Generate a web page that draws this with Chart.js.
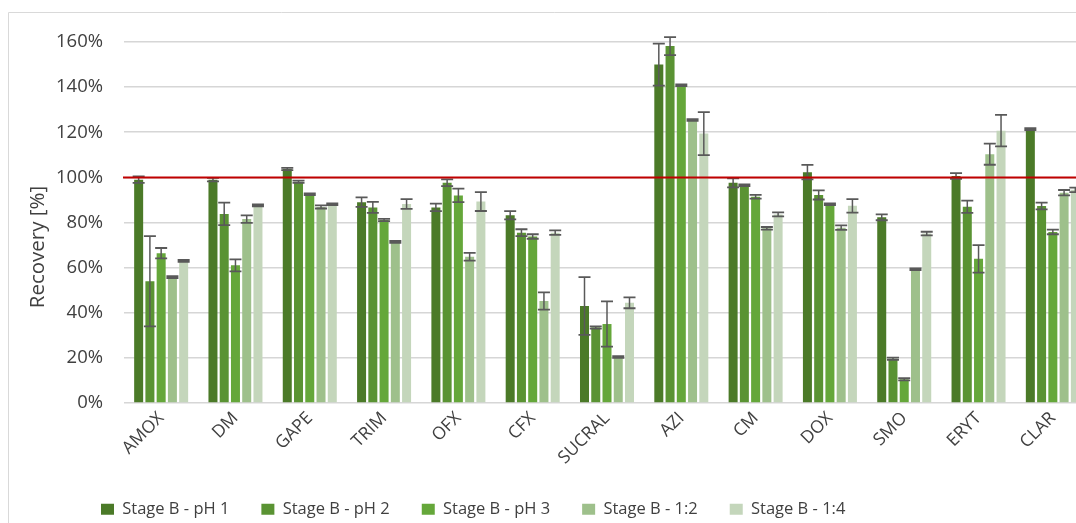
<!DOCTYPE html>
<html>
<head>
<meta charset="utf-8">
<script src="https://cdn.jsdelivr.net/npm/chart.js@4.4.1/dist/chart.umd.min.js"></script>
<style>
  html, body { margin: 0; padding: 0; background: #ffffff; overflow: hidden; }
  #wrap { width: 1100px; height: 523px; }
</style>
</head>
<body>
<div id="wrap"><canvas id="chart" width="1100" height="523"></canvas></div>
<script>
// Compounds on the category axis
const categories = ['AMOX', 'DM', 'GAPE', 'TRIM', 'OFX', 'CFX', 'SUCRAL', 'AZI', 'CM', 'DOX', 'SMO', 'ERYT', 'CLAR'];

// Series labels
const seriesNames = ['Stage B - pH 1', 'Stage B - pH 2', 'Stage B - pH 3', 'Stage B - 1:2', 'Stage B - 1:4'];

// Mean recovery [%] per compound
const recoveryPH1 = [99, 99, 103.7, 89, 86.7, 83.2, 43, 150, 97.6, 102.3, 82.3, 100.6, 121.4];
const recoveryPH2 = [54, 83.8, 98.1, 86.7, 97.6, 75.5, 33.5, 158.2, 96.5, 92.2, 19.6, 87, 87.3];
const recoveryPH3 = [66.4, 61, 92.5, 81.1, 92, 73.8, 35, 140.8, 91.4, 88.1, 10.5, 63.9, 75.8];
const recovery12  = [55.8, 81.5, 86.9, 71.4, 64.8, 45.2, 20.4, 125.4, 77.4, 77.7, 59.3, 110.3, 93.2];
const recovery14  = [63, 87.6, 88.1, 88.2, 89.3, 75.5, 44.4, 119.4, 83.6, 87.4, 75.1, 120.7, 94.5];

// Standard deviations (±) per compound
const errPH1 = [1.4, 0.8, 0.5, 2.1, 1.7, 1.8, 12.8, 9.3, 2.0, 3.2, 1.3, 1.3, 0.4];
const errPH2 = [20, 5, 0.5, 2.4, 1.5, 1.5, 0.5, 4.0, 0.4, 2.0, 0.5, 2.7, 1.5];
const errPH3 = [2.3, 2.7, 0.4, 0.5, 3.0, 1.0, 10, 0.4, 0.8, 0.4, 0.5, 6.1, 1.0];
const err12  = [0.4, 1.7, 0.7, 0.4, 1.7, 3.8, 0.4, 0.4, 0.6, 1.0, 0.4, 4.7, 1.2];
const err14  = [0.4, 0.4, 0.4, 2.2, 4.2, 1.0, 2.4, 9.5, 0.9, 3.0, 0.8, 7.0, 1.0];

// Value axis ticks and the 100 % reference level
const yTickValues = [0, 20, 40, 60, 80, 100, 120, 140, 160];
const referenceLevel = 100;
const yAxisTitle = 'Recovery [%]';

const seriesColors = ['#4b7a28', '#5a9333', '#65a73a', '#9ec08b', '#c4d6bb'];
const seriesValues = [recoveryPH1, recoveryPH2, recoveryPH3, recovery12, recovery14];
const seriesErrors = [errPH1, errPH2, errPH3, err12, err14];

const FONT = "'Open Sans', 'DejaVu Sans', sans-serif";
const TEXT = '#404040';
const CANVAS_H = 523;
const PLOT_LEFT = 124;
const PLOT_BOTTOM = 403;

const datasets = seriesNames.map((name, i) => ({
  label: name,
  data: seriesValues[i],
  errorBars: seriesErrors[i],
  backgroundColor: seriesColors[i],
  borderWidth: 0,
  barPercentage: 0.8,
  categoryPercentage: 0.757
}));

// Chart frame, reference line, error bars and axis title
const decorations = {
  id: 'decorations',
  beforeDraw(chart) {
    const ctx = chart.ctx;
    ctx.save();
    ctx.strokeStyle = '#d9d9d9';
    ctx.lineWidth = 1;
    ctx.beginPath();
    ctx.moveTo(8.5, CANVAS_H);
    ctx.lineTo(8.5, 12.5);
    ctx.lineTo(chart.width, 12.5);
    ctx.stroke();
    ctx.restore();
  },
  afterLayout(chart) {
    const lg = chart.legend;
    if (!lg) return;
    const w = lg.right - lg.left;
    const h = lg.bottom - lg.top;
    lg.left = 101 - lg.options.labels.padding;
    lg.right = lg.left + w;
    lg.top = 510 - lg.options.labels.padding - 9;
    lg.bottom = lg.top + h;
  },
  afterDatasetsDraw(chart) {
    const ctx = chart.ctx;
    const y = chart.scales.y;
    const area = chart.chartArea;
    ctx.save();
    // error bars
    ctx.strokeStyle = '#595959';
    chart.data.datasets.forEach((ds, di) => {
      const meta = chart.getDatasetMeta(di);
      meta.data.forEach((bar, j) => {
        const v = ds.data[j];
        const e = ds.errorBars[j];
        const yt = y.getPixelForValue(v + e);
        const yb = y.getPixelForValue(v - e);
        const half = bar.width / 2 + 1.5;
        ctx.lineWidth = 1.5;
        ctx.beginPath();
        ctx.moveTo(bar.x, yt);
        ctx.lineTo(bar.x, yb);
        ctx.stroke();
        ctx.lineWidth = 1.8;
        ctx.beginPath();
        ctx.moveTo(bar.x - half, yt);
        ctx.lineTo(bar.x + half, yt);
        ctx.moveTo(bar.x - half, yb);
        ctx.lineTo(bar.x + half, yb);
        ctx.stroke();
      });
    });
    // 100 % reference line
    const yr = y.getPixelForValue(referenceLevel);
    ctx.strokeStyle = '#c00000';
    ctx.lineWidth = 2;
    ctx.beginPath();
    ctx.moveTo(area.left - 1, yr);
    ctx.lineTo(area.right, yr);
    ctx.stroke();
    // value axis title
    ctx.fillStyle = TEXT;
    ctx.font = '20.5px ' + FONT;
    ctx.textAlign = 'center';
    ctx.textBaseline = 'middle';
    ctx.translate(38, 247);
    ctx.rotate(-Math.PI / 2);
    ctx.fillText(yAxisTitle, 0, 0);
    ctx.restore();
  }
};

new Chart(document.getElementById('chart'), {
  type: 'bar',
  data: { labels: categories, datasets },
  options: {
    responsive: false,
    animation: false,
    events: [],
    layout: { padding: { left: 0, right: 10, top: 42, bottom: 0 } },
    plugins: {
      tooltip: { enabled: false },
      legend: {
        position: 'bottom',
        align: 'start',
        labels: {
          color: TEXT,
          font: { family: FONT, size: 16.5 },
          boxWidth: 13,
          boxHeight: 11,
          padding: 32
        }
      }
    },
    scales: {
      x: {
        grid: { display: false, drawTicks: false },
        border: { display: false },
        ticks: {
          color: TEXT,
          font: { family: FONT, size: 17.5 },
          autoSkip: false,
          maxRotation: 45,
          minRotation: 45,
          padding: 5
        },
        afterFit(scale) {
          const lh = scale.chart.legend && scale.chart.legend.height ? scale.chart.legend.height : 0;
          scale.height = CANVAS_H - PLOT_BOTTOM - lh;
        }
      },
      y: {
        min: 0,
        max: 160,
        grid: { color: '#d6d6d6', lineWidth: 1.6, drawTicks: false },
        border: { display: false },
        afterBuildTicks(scale) {
          scale.ticks = yTickValues.map(v => ({ value: v }));
        },
        ticks: {
          color: TEXT,
          font: { family: FONT, size: 18.5 },
          padding: 21,
          callback: v => v + '%'
        },
        afterFit(scale) { scale.width = PLOT_LEFT; }
      }
    }
  },
  plugins: [decorations]
});
</script>
</body>
</html>
